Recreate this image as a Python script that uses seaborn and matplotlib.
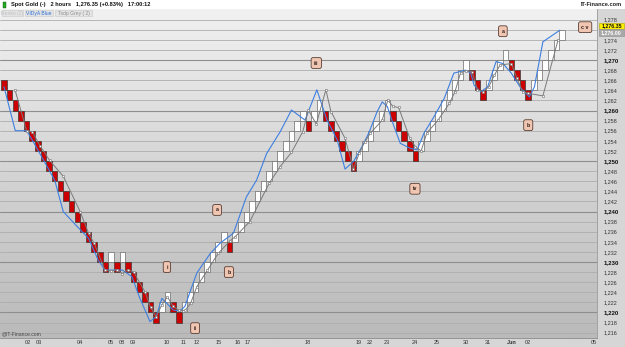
import numpy as np
import pandas as pd
import matplotlib
matplotlib.use("Agg")
import matplotlib.pyplot as plt
from matplotlib.patches import Rectangle
from matplotlib.colors import LinearSegmentedColormap
import seaborn as sns

# ---------------- data ----------------
brick_low = [1264, 1262, 1260, 1258, 1256, 1254, 1252, 1250, 1248, 1246, 1244, 1242, 1240, 1238, 1236, 1234, 1232, 1230, 1228,
             1230, 1228, 1230, 1228, 1226, 1224, 1222, 1220, 1218,
             1220, 1222, 1220, 1218,
             1220, 1222, 1224, 1226, 1228, 1230, 1232, 1234,
             1232,
             1234, 1236, 1238, 1240, 1242, 1244, 1246, 1248, 1250, 1252, 1254, 1256, 1258,
             1256,
             1258, 1260,
             1258, 1256, 1254, 1252, 1250, 1248,
             1250, 1252, 1254, 1256, 1258, 1260,
             1258, 1256, 1254, 1252, 1250,
             1252, 1254, 1256, 1258, 1260, 1262, 1264, 1266, 1268,
             1266, 1264, 1262,
             1264, 1266, 1268, 1270,
             1268, 1266, 1264, 1262,
             1264, 1266, 1268, 1270, 1272, 1274]
brick_dir = (['d'] * 19 + ['u', 'd', 'u'] + ['d'] * 6 + ['u'] * 2 + ['d'] * 2 + ['u'] * 8 + ['d'] +
             ['u'] * 13 + ['d'] + ['u'] * 2 + ['d'] * 6 + ['u'] * 6 + ['d'] * 5 + ['u'] * 9 +
             ['d'] * 3 + ['u'] * 4 + ['d'] * 4 + ['u'] * 6)
brick_size = 2

vidya_x = [0, 2, 4, 5.2, 7, 9, 10.5, 13, 15, 16.7, 17.9, 19.4, 21, 22.7, 24, 25.9, 27, 28, 28.9, 30, 31.2,
           32.1, 33, 34.2, 36.6, 38.3, 40.7, 43, 44.8, 46.6, 49, 51, 53.4, 55.5, 57.3, 59.1, 60.5, 62, 63.5,
           64.7, 66.2, 67.1, 68, 69.2, 70.3, 72.1, 73.3, 74.5, 76.3, 78.1, 79.8, 81.9, 82.8, 83.4, 84.6,
           85.8, 87.3, 88.5, 90, 91.7, 93.2, 94.1, 95.6, 98.6]
vidya_y = [1264.7, 1256.0, 1256.0, 1253.8, 1250.2, 1246.2, 1240.0, 1237.0, 1234.7, 1230.4, 1228.4, 1228.4,
           1228.4, 1227.1, 1223.1, 1218.2, 1219.2, 1222.8, 1221.8, 1220.5, 1220.3, 1221.2, 1224.1, 1227.8,
           1231.7, 1233.7, 1235.7, 1242.9, 1246.2, 1251.5, 1255.8, 1260.1, 1258.1, 1264.1, 1258.1, 1254.2,
           1248.4, 1249.9, 1252.8, 1255.5, 1259.8, 1261.7, 1260.8, 1256.8, 1253.5, 1252.5, 1252.2, 1255.5,
           1258.8, 1262.4, 1267.4, 1268.0, 1267.4, 1265.0, 1263.7, 1264.7, 1269.7, 1269.3, 1267.4, 1264.4,
           1262.7, 1264.7, 1273.6, 1275.9]

grey_x = [1.95, 4, 5, 6.4, 8.1, 10.5, 13.5, 15, 16, 17.9, 19, 20, 21, 22, 23, 25, 26, 27, 28, 29, 30, 31,
          32.1, 33.1, 34.2, 36.1, 38, 40.1, 41, 43.6, 47.1, 49, 51, 53, 54, 55.4, 57.1, 58, 60.5, 62, 63, 64,
          65, 67.1, 68.1, 69, 70, 72, 73, 74, 75, 77, 79, 80, 81, 82, 83, 84, 85, 86, 87, 88, 90, 91, 92, 93,
          95.6, 98.3]
grey_y = [1264.1, 1256.0, 1255.8, 1253.0, 1250.1, 1247.0, 1240.0, 1235.7, 1233.7, 1228.4, 1228.2, 1228.5,
          1227.7, 1228.5, 1228.0, 1224.1, 1221.0, 1219.2, 1221.5, 1223.1, 1221.2, 1220.5, 1220.4, 1221.8,
          1225.1, 1228.4, 1231.7, 1234.2, 1235.0, 1238.0, 1245.7, 1248.9, 1251.7, 1255.8, 1260.1, 1257.3,
          1264.1, 1259.8, 1254.5, 1248.4, 1251.5, 1253.8, 1255.5, 1258.1, 1262.1, 1260.8, 1260.6, 1254.5,
          1252.8, 1252.0, 1255.5, 1258.1, 1261.4, 1263.7, 1267.5, 1267.9, 1267.7, 1264.1, 1263.7, 1264.7,
          1267.0, 1269.0, 1269.3, 1266.4, 1263.7, 1263.4, 1262.9, 1274.0]

date_pos = [4.26, 6.2, 13.5, 19.0, 20.9, 22.9, 28.9, 31.8, 34.1, 38.0, 41.5, 43.3, 53.9, 63.0, 64.9, 67.9,
            72.9, 76.8, 82.0, 85.9, 90.0, 93.0, 104.7]
date_labels = ['02', '03', '04', '05', '08', '09', '10', '11', '12', '15', '16', '17', '18', '19', '22', '23',
               '24', '25', '30', '31', 'Jun', '02', '05']

wave_text = ['i', 'ii', 'iii', 'iv', 'a', 'b', 'a', 'b', 'c v']
wave_x = [28.9, 33.9, 55.4, 72.9, 37.8, 39.9, 88.5, 93.0, 103.1]
wave_y = [1229.0, 1216.9, 1269.4, 1244.5, 1240.3, 1228.0, 1275.7, 1257.1, 1276.5]

y_ticks = list(range(1216, 1280, 2))
last_price = "1,276.35"
prev_price = "1,276.00"
title = "Spot Gold (-)   2 hours   1,276.35 (+0.83%)   17:00:12"

# ---------------- figure ----------------
sns.set_theme(style="white")
plt.rcParams['font.family'] = ['Liberation Sans', 'DejaVu Sans']

W, H = 625, 347
fig = plt.figure(figsize=(W / 100, H / 100), dpi=100, facecolor='#d6d6d6')


def fy(py):
    return 1 - py / H


ax = fig.add_axes([0, fy(338), 597 / W, (338 - 9) / H])
x0, x1 = -0.71, 105.2
y0, y1 = 1214.95, 1280.1
ax.set_xlim(x0, x1)
ax.set_ylim(y0, y1)

grad = np.linspace(0, 1, 256).reshape(-1, 1)
cmap = LinearSegmentedColormap.from_list('g', ['#bababa', '#d4d4d4', '#f1f1f1'])
ax.imshow(grad, extent=[x0, x1, y0, y1], aspect='auto', cmap=cmap, origin='lower', zorder=0)

for p in y_ticks:
    if p % 10 == 0:
        ax.axhline(p, color='#8e8e8e', lw=0.8, zorder=1)
    else:
        ax.axhline(p, color='#adadad', lw=0.6, zorder=1)

df = pd.DataFrame({'idx': np.arange(len(brick_low)), 'low': brick_low, 'dir': brick_dir})
face = np.where(df['dir'] == 'd', '#cc0000', '#ffffff')
edge = np.where(df['dir'] == 'd', '#3a3a3a', '#6a6a6a')
ax.bar(df['idx'], brick_size, bottom=df['low'], width=0.98, color=face, edgecolor=edge, linewidth=0.5, zorder=3)

sns.lineplot(x=vidya_x, y=vidya_y, ax=ax, color='#3d7fe0', lw=0.8, sort=False, zorder=4)
sns.lineplot(x=grey_x, y=grey_y, ax=ax, color='#7a7a7a', lw=0.7, sort=False, zorder=5,
             marker='s', markersize=1.8, markerfacecolor='white', markeredgecolor='#707070',
             markeredgewidth=0.4)

for t, xx, yy in zip(wave_text, wave_x, wave_y):
    ax.text(xx, yy, t, ha='center', va='center', fontsize=3.8, fontweight='bold', color='#2a1a14',
            bbox=dict(boxstyle='round,pad=0.55,rounding_size=0.35', fc='#f0c6b2', ec='#5a3e34', lw=0.6),
            zorder=6)

ax.set_yticks(y_ticks)
# the 1,276 label sits under the price tags in the reference
ax.set_yticklabels(['' if v == 1276 else f"{v:,}" for v in y_ticks])
ax.yaxis.tick_right()
ax.tick_params(axis='y', labelsize=4, length=0, pad=4.5, colors='#333333')
for lab, v in zip(ax.get_yticklabels(), y_ticks):
    if v % 10 == 0:
        lab.set_fontweight('bold')
        lab.set_color('#111111')
        lab.set_fontsize(4.4)

ax.set_xticks(date_pos)
ax.set_xticklabels(date_labels)
ax.tick_params(axis='x', labelsize=4, length=0, pad=1.5, colors='#333333')
for lab in ax.get_xticklabels():
    if lab.get_text() == 'Jun':
        lab.set_fontweight('bold')
ax.set_xlabel('')
ax.set_ylabel('')
for s in ['top', 'left']:
    ax.spines[s].set_visible(False)
ax.spines['bottom'].set_color('#8a8a8a')
ax.spines['bottom'].set_linewidth(0.6)
ax.spines['right'].set_color('#9a9a9a')
ax.spines['right'].set_linewidth(0.6)

# header band
fig.patches.append(Rectangle((0, fy(9)), 1, 9 / H, transform=fig.transFigure, fc='white', ec='none', zorder=10))
fig.patches.append(Rectangle((3 / W, fy(7.5)), 3 / W, 6 / H, transform=fig.transFigure, fc='#22aa22',
                             ec='#115511', lw=0.3, zorder=11))
fig.text(11 / W, fy(4.8), title, fontsize=4.1, fontweight='bold', color='#111111', va='center', ha='left',
         zorder=12)
fig.text(622 / W, fy(4.8), "IT-Finance.com", fontsize=4.1, fontweight='bold', color='#222222', va='center',
         ha='right', zorder=12)

# indicator tabs
tab_specs = [("Renko (2)", 2, 23, '#c0c0c0'), ("VIDyA Blue", 25, 53, '#2a6fd6'), ("Tsdp Grey ( 2)", 55, 92, '#909090')]
for txt, a, b, col in tab_specs:
    fig.patches.append(Rectangle((a / W, fy(16)), (b - a) / W, 6 / H, transform=fig.transFigure,
                                 fc='#e4e4e4', ec='#c8c8c8', lw=0.4, zorder=10))
    fig.text((a + b) / 2 / W, fy(13), txt, fontsize=3.6, color=col, ha='center', va='center', zorder=12)

# price tags
fig.patches.append(Rectangle((599 / W, fy(29)), 25 / W, 6.5 / H, transform=fig.transFigure,
                             fc='#ffee00', ec='#b0a000', lw=0.4, zorder=10))
fig.text(611.5 / W, fy(25.8), last_price, fontsize=3.8, fontweight='bold', color='#111111', ha='center',
         va='center', zorder=12)
fig.patches.append(Rectangle((599 / W, fy(35.8)), 25 / W, 6.5 / H, transform=fig.transFigure,
                             fc='#a8a8a8', ec='#909090', lw=0.4, zorder=10))
fig.text(611.5 / W, fy(32.6), prev_price, fontsize=3.8, fontweight='bold', color='white', ha='center',
         va='center', zorder=12)

fig.text(2 / W, fy(334), "@IT-Finance.com", fontsize=3.6, color='#444444', ha='left', va='center', zorder=12)

fig.savefig('out.png', dpi=100, facecolor=fig.get_facecolor())
